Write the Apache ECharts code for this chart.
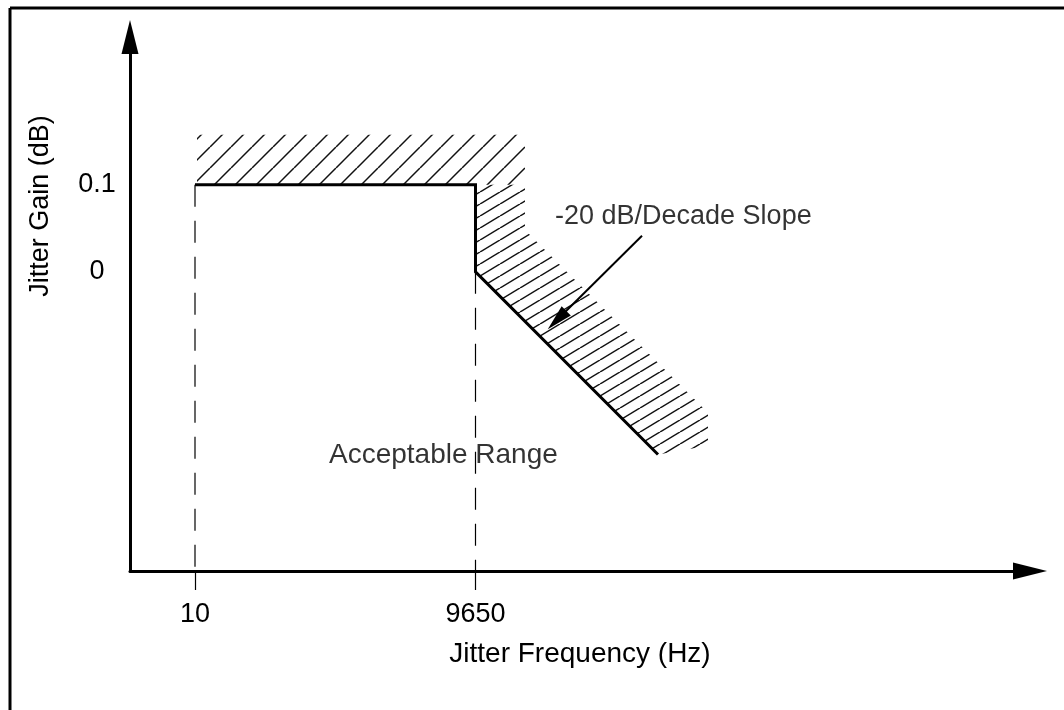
<!DOCTYPE html>
<html><head><meta charset="utf-8">
<script src="https://cdn.jsdelivr.net/npm/echarts@6/dist/echarts.min.js"></script>
<style>html,body{margin:0;padding:0;background:#fff}#c{width:1064px;height:710px}</style>
</head><body><div id="c"></div>
<script>
// ---- data (schematic units) ----
const xTickPos = [6.5, 34.55];
const xTickLabels = ['10', '9650'];
const yTickPos = [0, 0.1];
const yTickLabels = ['0', '0.1'];
const maskLine = [[6.5, 0.1], [34.55, 0.1], [34.55, 0], [52.8, -0.21]];
const hatchTop = [[6.7, 0.1], [6.7, 0.1575], [39.5, 0.1575], [39.5, 0.1]];
const hatchSlope = [[34.55, 0.1], [39.5, 0.1], [39.5, 0.048], [57.8, -0.162], [57.8, -0.2], [52.8, -0.21], [34.55, 0]];
const guide10 = [[6.5, 0.1], [6.5, -0.344]];
const guide9650 = [[34.55, 0], [34.55, -0.344]];
const slopeArrow = [[51.2, 0.0414], [42.7, -0.0554]];
const noteText = ['-20 dB/Decade Slope', 'Acceptable Range'];
const notePos = [[42.5, 0.063], [19.9, -0.2104]];
const noteSize = [27, 28];

const FONT = 'Liberation Sans';
const FS = 27;

function makeHatch(w, h, lw) {
  const c = document.createElement('canvas');
  c.width = w; c.height = h;
  const g = c.getContext('2d');
  g.strokeStyle = '#111'; g.lineWidth = lw;
  for (const dx of [-w, 0, w]) {
    g.beginPath(); g.moveTo(dx, h); g.lineTo(dx + w, 0); g.stroke();
  }
  return c;
}
const patTop = makeHatch(21, 21, 1.5);
const patSlope = makeHatch(20, 12, 1.5);

function polySeries(points, pat) {
  return {
    type: 'custom', coordinateSystem: 'cartesian2d', silent: true, z: 1,
    data: [[0, 0]], animation: false, clip: false,
    renderItem: function (params, api) {
      return {
        type: 'polygon',
        shape: { points: points.map(p => api.coord(p)) },
        style: { fill: { image: pat, repeat: 'repeat' }, stroke: null }
      };
    }
  };
}
function pick(v, pos, labels) {
  for (let i = 0; i < pos.length; i++) if (Math.abs(v - pos[i]) < 1e-6) return labels[i];
  return '';
}
const txt = { color: '#000', fontFamily: FONT, fontSize: FS };

const chart = echarts.init(document.getElementById('c'), null, { renderer: 'canvas' });
chart.setOption({
  animation: false,
  backgroundColor: '#fff',
  grid: { left: 130, top: 37, width: 900, height: 534, outerBoundsMode: 'none', containLabel: false },
  xAxis: {
    type: 'value', min: 0, max: 90,
    axisLine: { show: true, onZero: false, symbol: ['none', 'triangle'], symbolSize: [17, 34], lineStyle: { color: '#000', width: 3 } },
    axisTick: { show: true, customValues: xTickPos, length: 19, lineStyle: { color: '#000', width: 1.2 } },
    axisLabel: Object.assign({ customValues: xTickPos, margin: 30, formatter: v => pick(v, xTickPos, xTickLabels) }, txt),
    splitLine: { show: false },
    name: 'Jitter Frequency (Hz)', nameLocation: 'middle', nameGap: 69,
    nameTextStyle: Object.assign({}, txt, { fontSize: 28 })
  },
  yAxis: {
    type: 'value', min: -0.344, max: 0.27,
    axisLine: { show: true, onZero: false, symbol: ['none', 'triangle'], symbolSize: [17, 34], lineStyle: { color: '#000', width: 3 } },
    axisTick: { show: false },
    axisLabel: Object.assign({ customValues: yTickPos, margin: 33, align: 'center', formatter: v => pick(v, yTickPos, yTickLabels) }, txt),
    splitLine: { show: false },
    name: 'Jitter Gain (dB)', nameLocation: 'middle', nameGap: 76, nameRotate: 90,
    nameTextStyle: Object.assign({ padding: [0, 0, 0, 196] }, txt)
  },
  graphic: [
    { type: 'line', shape: { x1: 10, y1: 8, x2: 1064, y2: 8 }, style: { stroke: '#000', lineWidth: 3 }, silent: true },
    { type: 'line', shape: { x1: 10, y1: 8, x2: 10, y2: 710 }, style: { stroke: '#000', lineWidth: 3 }, silent: true }
  ],
  series: [
    polySeries(hatchTop, patTop),
    polySeries(hatchSlope, patSlope),
    { type: 'line', data: guide10, symbol: 'none', silent: true, z: 2,
      lineStyle: { color: '#000', width: 1.2, type: [22, 14] } },
    { type: 'line', data: guide9650, symbol: 'none', silent: true, z: 2,
      lineStyle: { color: '#000', width: 1.2, type: [22, 14] } },
    { type: 'line', data: maskLine, symbol: 'none', silent: true, z: 3,
      lineStyle: { color: '#000', width: 3, join: 'miter' },
      markLine: {
        silent: true, animation: false, symbol: ['none', 'triangle'], symbolSize: [13, 26],
        lineStyle: { color: '#000', width: 2, type: 'solid' }, label: { show: false },
        data: [[{ coord: slopeArrow[0] }, { coord: slopeArrow[1] }]]
      } },
    { type: 'scatter', data: notePos, symbolSize: 0, silent: true, z: 4,
      label: Object.assign({ show: true, position: 'right', distance: 0,
        formatter: p => noteText[p.dataIndex] }, txt),
      labelLayout: p => ({ fontSize: noteSize[p.dataIndex] }) }
  ]
});
</script></body></html>
